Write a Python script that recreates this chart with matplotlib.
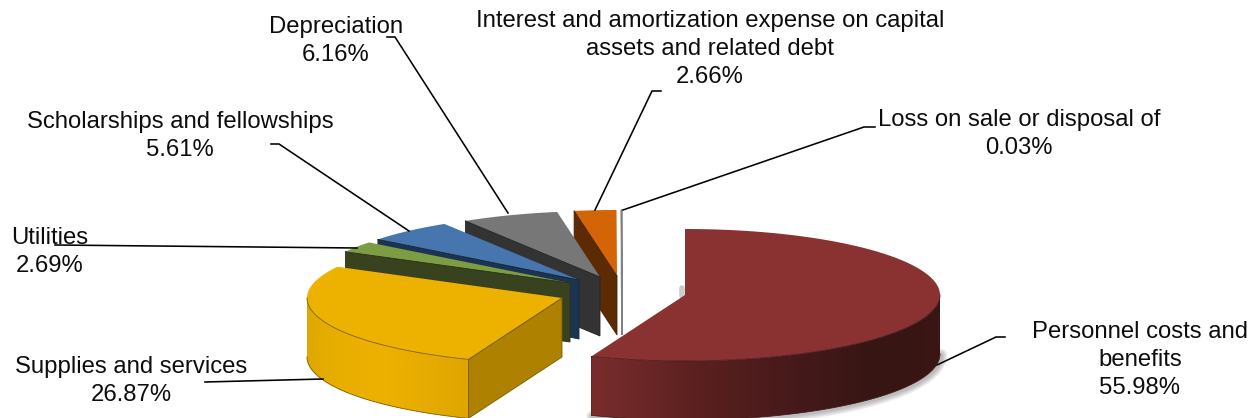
import numpy as np
import matplotlib
matplotlib.use("Agg")
import matplotlib.pyplot as plt
from matplotlib.colors import to_rgb
from matplotlib.patches import Polygon

plt.rcParams["font.family"] = ["Liberation Sans", "DejaVu Sans"]

# Expense shares, in percent, clockwise from twelve o'clock
categories = [
    "Personnel costs and\nbenefits",
    "Supplies and services",
    "Utilities",
    "Scholarships and fellowships",
    "Depreciation",
    "Interest and amortization expense on capital\nassets and related debt",
    "Loss on sale or disposal of",
]
shares = [55.98, 26.87, 2.69, 5.61, 6.16, 2.66, 0.03]

# Slice styling
top_colors = ["#8a3231", "#edb100", "#7c9d43", "#4676ad", "#777777", "#d36506", "#ffffff"]
face_colors = ["#5a201f", "#ae8200", "#38421e", "#1c3352", "#333333", "#5c2b04", "#f4f4f4"]
edge_colors = ["#4a1a1a", "#7a5c00", "#2c3417", "#16283f", "#262626", "#4a2203", "#808080"]
edge_widths = [0.6, 0.6, 0.6, 0.6, 0.6, 0.6, 1.1]

# Pie geometry in pixels: radii of the ellipse, slab depth, exploded slice centres
RX, RY, DEPTH = 255.0, 66.0, 59.0
slice_x = [685, 562, 570, 579, 600, 617, 622]
slice_y = [295, 298, 283, 280, 277, 276, 276]

# Label placement and leader lines
label_x = [1140, 131, 50, 180, 336, 710, 1019]
label_y = [360, 381, 252, 136, 41, 49, 134]
leaders = [
    [(1005, 337), (996, 337), (937, 365)],
    [(205, 382), (323, 379)],
    [(55, 245), (357, 248)],
    [(271, 144), (279, 144), (409, 231)],
    [(387, 37), (395, 37), (508, 213)],
    [(661, 91), (652, 91), (595, 210)],
    [(875, 127), (864, 127), (623, 210)],
]

# Horizontal shading stops of the curved walls
wall_shades = {
    0: ([592, 620, 700, 800, 880, 940], ["#7a2c2c", "#722a2a", "#5a201f", "#45191a", "#361513", "#3a1614"]),
    1: ([306, 330, 380, 430, 468], ["#dfa800", "#e6ad00", "#edb100", "#e6ab00", "#dfa600"]),
}


def rim(cx, cy, a0, a1, n=200):
    t = np.radians(np.linspace(a0, a1, n))
    return np.column_stack([cx + RX * np.sin(t), cy - RY * np.cos(t)])


fig = plt.figure(figsize=(12.54, 4.18), dpi=100)
ax = fig.add_axes([0, 0, 1, 1])
ax.axis("off")

stops = np.cumsum([0] + shares) * 3.6
order = [6, 5, 4, 3, 2, 1, 0]
down = np.array([0, DEPTH])

for z, i in enumerate(order):
    a0, a1 = stops[i], stops[i + 1]
    cx, cy = slice_x[i], slice_y[i]
    base = 10 + z * 10
    apex = np.array([cx, cy], dtype=float)
    lw = edge_widths[i]

    # Soft shadow under the largest slice
    if i == 0:
        low = rim(cx, cy, 90, a1) + down
        for width in (9, 7, 5, 3):
            ax.plot(low[:, 0] + 1, low[:, 1] + 1, color="k", lw=width, alpha=0.07,
                    zorder=base - 1, solid_capstyle="round")
        ax.plot([cx - 3, cx - 3], [cy - 7, cy + 1], color="k", lw=4, alpha=0.2,
                zorder=base - 1, solid_capstyle="round")

    # Flat radial wall, visible on slices starting in the left half
    if a0 >= 180:
        corner = rim(cx, cy, a0, a0, 1)[0]
        ax.add_patch(Polygon([apex, corner, corner + down, apex + down], closed=True,
                             facecolor=face_colors[i], edgecolor=edge_colors[i], lw=lw,
                             zorder=base))

    # Curved outer wall, a horizontal gradient clipped to the wall outline
    w0, w1 = max(a0, 90), min(a1, 270)
    if w1 > w0:
        arc = rim(cx, cy, w0, w1, 240)
        outline = Polygon(np.vstack([arc, (arc + down)[::-1]]), closed=True, transform=ax.transData,
                          facecolor="none", edgecolor="none")
        ax.add_patch(outline)
        xs, cols = wall_shades[i]
        rgb = np.array([to_rgb(c) for c in cols])
        left, right = arc[:, 0].min(), arc[:, 0].max()
        px = np.arange(np.floor(left), np.ceil(right) + 1)
        strip = np.column_stack([np.interp(px, xs, rgb[:, c]) for c in range(3)])[None, :, :]
        img = ax.imshow(strip, extent=(px[0], px[-1], 418, 0), aspect="auto",
                        interpolation="bilinear", zorder=base + 1)
        img.set_clip_path(outline)
        ax.plot(*(arc + down).T, color=edge_colors[i], lw=lw, zorder=base + 2)
        end = arc[-1] if arc[-1, 1] > arc[0, 1] else arc[0]
        ax.plot([end[0]] * 2, [end[1], end[1] + DEPTH], color=edge_colors[i], lw=lw,
                zorder=base + 2)

    # Top face
    top = np.vstack([apex, rim(cx, cy, a0, a1)])
    ax.add_patch(Polygon(top, closed=True, facecolor=top_colors[i], edgecolor="none", zorder=base + 3))
    if w1 > w0:
        ax.plot(*rim(cx, cy, w0, w1).T, color=edge_colors[i], lw=lw, zorder=base + 4)
    if a0 >= 180:
        ax.plot(*np.array([apex, rim(cx, cy, a0, a0, 1)[0]]).T, color=edge_colors[i], lw=lw,
                zorder=base + 4)

for pts in leaders:
    xy = np.array(pts)
    ax.plot(xy[:, 0], xy[:, 1], color="black", lw=1.15, zorder=120, solid_joinstyle="miter")

for name, share, x, y in zip(categories, shares, label_x, label_y):
    ax.text(x, y, f"{name}\n{share:.2f}%", ha="center", va="center", ma="center",
            fontsize=17.2, color="#0d0d0d", linespacing=1.33, zorder=130)

ax.set_xlim(0, 1254)
ax.set_ylim(418, 0)

fig.savefig("out.png", dpi=100, facecolor="white")
